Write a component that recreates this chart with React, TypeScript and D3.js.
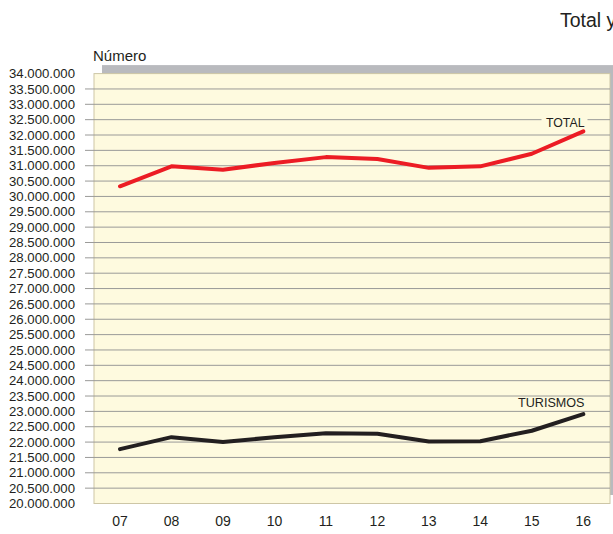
import React from "react";
import * as d3 from "d3";

const years = ["07", "08", "09", "10", "11", "12", "13", "14", "15", "16"];
const totalValues = [30.33, 30.98, 30.87, 31.09, 31.28, 31.22, 30.93, 30.98, 31.39, 32.12].map((v) => v * 1e6);
const turismosValues = [21.77, 22.16, 22.0, 22.16, 22.29, 22.27, 22.02, 22.03, 22.37, 22.91].map((v) => v * 1e6);
const yTicks = d3.range(20000000, 34000001, 500000);
const seriesNames = ["TOTAL", "TURISMOS"];

const W = 613;
const H = 534;
const plot = { x0: 94, x1: 610, y0: 73.6, y1: 503.5 };

const fmt = (v: number) => d3.format(",")(v).replace(/,/g, ".");

export default function App() {
  const y = d3.scaleLinear().domain([20000000, 34000000]).range([plot.y1, plot.y0]);
  const x = d3.scalePoint<string>().domain(years).range([120, 583.3]);
  const line = d3
    .line<number>()
    .x((_, i) => x(years[i]) as number)
    .y((d) => y(d));
  const font = "'Liberation Sans', Arial, sans-serif";
  return (
    <svg width={W} height={H} style={{ position: "absolute", left: 0, top: 0 }} fontFamily={font}>
      <rect x={0} y={0} width={W} height={H} fill="#ffffff" />
      <text x={560} y={27} fontSize={19.5} fill="#231f20">Total y</text>
      <text x={93} y={60.5} fontSize={15} fill="#231f20">Número</text>
      {/* shadow */}
      <rect x={plot.x0 + 8} y={plot.y0 - 8.5} width={plot.x1 - plot.x0} height={plot.y1 - plot.y0} fill="#b9babe" />
      <rect
        x={plot.x0}
        y={plot.y0}
        width={plot.x1 - plot.x0}
        height={plot.y1 - plot.y0}
        fill="#fefadf"
        stroke="#cdc6a6"
        strokeWidth={1}
      />
      {yTicks
        .filter((t) => t > 20000000 && t < 34000000)
        .map((t) => (
          <line key={t} x1={85} x2={plot.x1} y1={y(t)} y2={y(t)} stroke="#9a9a98" strokeWidth={1} />
        ))}
      {yTicks.map((t) => (
        <text key={"l" + t} x={75} y={y(t) + 4.6} fontSize={13.2} textAnchor="end" fill="#231f20">
          {fmt(t)}
        </text>
      ))}
      {years.map((yr) => (
        <text key={yr} x={x(yr)} y={526} fontSize={14} textAnchor="middle" fill="#231f20">
          {yr}
        </text>
      ))}
      <path d={line(totalValues) || ""} fill="none" stroke="#ec1c24" strokeWidth={4} strokeLinejoin="round" strokeLinecap="round" />
      <path d={line(turismosValues) || ""} fill="none" stroke="#231f20" strokeWidth={4} strokeLinejoin="round" strokeLinecap="round" />
      <rect x={541.5} y={116} width={46} height={9} fill="#fefadf" />
      <text x={584.5} y={126.7} fontSize={12.3} textAnchor="end" fill="#231f20">{seriesNames[0]}</text>
      <text x={584.5} y={407.3} fontSize={12.6} textAnchor="end" fill="#231f20">{seriesNames[1]}</text>
    </svg>
  );
}
